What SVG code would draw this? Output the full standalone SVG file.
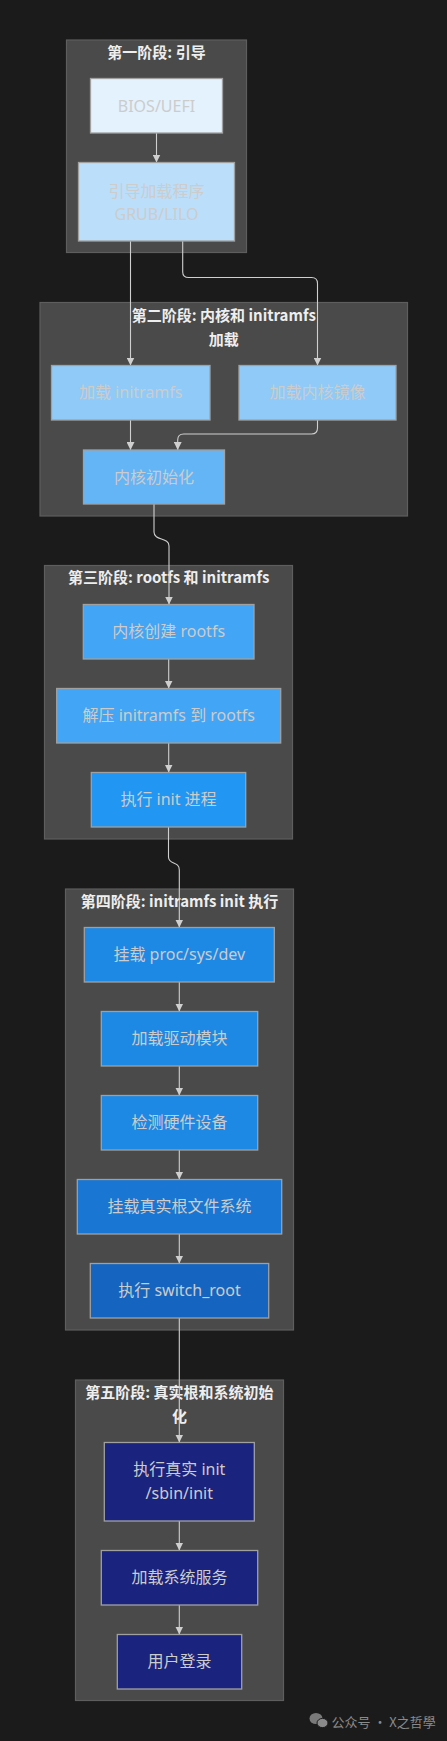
<svg xmlns="http://www.w3.org/2000/svg" width="447" height="1741" viewBox="0 0 447 1741">
<style>
.cl{fill:#494a49;stroke:#5e5e5e;stroke-width:1.2}
.ct{font-family:"Noto Sans CJK SC",sans-serif;font-size:15px;font-weight:bold;fill:#eeeeee;text-anchor:middle}
.n{stroke:#a0a0a0;stroke-width:1.3}
.nt{font-family:"Noto Sans","Noto Sans CJK SC",sans-serif;font-size:16px;fill:#cccccc;text-anchor:middle}
.e{fill:none;stroke:#cfcfcf;stroke-width:1.1}
.wm{font-family:"Noto Sans CJK SC",sans-serif;font-size:13px;fill:#8a8a8a}
</style>
<defs>
<marker id="ah" viewBox="0 0 10 10" refX="10" refY="5" markerWidth="8" markerHeight="8" markerUnits="userSpaceOnUse" orient="auto">
<path d="M0,0 L10,5 L0,10 z" fill="#cfcfcf"/>
</marker>
</defs>
<rect x="0" y="0" width="447" height="1741" fill="#1b1b1b"/>

<g id="cluster1"><rect class="cl" x="66.5" y="40" width="180" height="212.5"/><text class="ct" x="156.5" y="58">第一阶段: 引导</text></g>
<g id="cluster2"><rect class="cl" x="40" y="302.5" width="367.5" height="213.5"/><text class="ct" x="223.8" y="320.5">第二阶段: 内核和 initramfs</text><text class="ct" x="223.8" y="345">加载</text></g>
<g id="cluster3"><rect class="cl" x="44.5" y="565.5" width="248" height="273.5"/><text class="ct" x="168.7" y="583">第三阶段: rootfs 和 initramfs</text></g>
<g id="cluster4"><rect class="cl" x="65.5" y="889" width="228" height="441"/><text class="ct" x="179.5" y="906.5">第四阶段: initramfs init 执行</text></g>
<g id="cluster5"><rect class="cl" x="75.5" y="1380" width="208" height="320.5"/><text class="ct" x="179.5" y="1398">第五阶段: 真实根和系统初始</text><text class="ct" x="179.5" y="1421.5">化</text></g>

<g id="connectors">
<path class="e" marker-end="url(#ah)" d="M156.5,133 L156.5,162.5"/>
<path class="e" marker-end="url(#ah)" d="M130.5,241 L130.5,365.5"/>
<path class="e" marker-end="url(#ah)" d="M182.7,241 L182.7,272 Q182.7,277.5 188.7,277.5 L311.5,277.5 Q317.5,277.5 317.5,283.5 L317.5,365.5"/>
<path class="e" marker-end="url(#ah)" d="M130.5,420 L130.5,450"/>
<path class="e" marker-end="url(#ah)" d="M317.5,420 L317.5,428 Q317.5,434 311.5,434 L183.7,434 Q177.7,434 177.7,440 L177.7,450"/>
<path class="e" marker-end="url(#ah)" d="M154,504 L154,532 C154,541 169,537 169,546 L169,604.5"/>
<path class="e" marker-end="url(#ah)" d="M168.7,659 L168.7,688.5"/>
<path class="e" marker-end="url(#ah)" d="M168.7,743 L168.7,772.5"/>
<path class="e" marker-end="url(#ah)" d="M168.5,827 L168.5,857 C168.5,865 179.3,861 179.3,870 L179.3,927.5"/>
<path class="e" marker-end="url(#ah)" d="M179.3,982 L179.3,1011.5"/>
<path class="e" marker-end="url(#ah)" d="M179.3,1066 L179.3,1095.5"/>
<path class="e" marker-end="url(#ah)" d="M179.3,1150 L179.3,1179.5"/>
<path class="e" marker-end="url(#ah)" d="M179.3,1234 L179.3,1263.5"/>
<path class="e" marker-end="url(#ah)" d="M179.3,1318 L179.3,1442.5"/>
<path class="e" marker-end="url(#ah)" d="M179.3,1521 L179.3,1550.5"/>
<path class="e" marker-end="url(#ah)" d="M179.3,1605 L179.3,1634.5"/>
</g>

<g id="bios"><rect class="n" x="90.5" y="78.5" width="132" height="54.5" fill="#e3f2fd"/><text class="nt" x="156.5" y="111.5">BIOS/UEFI</text></g>
<g id="bootloader"><rect class="n" x="78.5" y="162.5" width="156" height="78.5" fill="#bbdefb"/><text class="nt" x="156.5" y="196.5">引导加载程序</text><text class="nt" x="156.5" y="220">GRUB/LILO</text></g>
<g id="load_initramfs"><rect class="n" x="51.5" y="365.5" width="158.5" height="54.5" fill="#90caf9"/><text class="nt" x="130.7" y="398">加载 initramfs</text></g>
<g id="load_kernel"><rect class="n" x="239" y="365.5" width="157" height="54.5" fill="#90caf9"/><text class="nt" x="317.5" y="398">加载内核镜像</text></g>
<g id="kernel_init"><rect class="n" x="83.5" y="450" width="141" height="54" fill="#64b5f6"/><text class="nt" x="154" y="482.5">内核初始化</text></g>
<g id="create_rootfs"><rect class="n" x="83.3" y="604.5" width="170.7" height="54.5" fill="#42a5f5"/><text class="nt" x="168.7" y="637">内核创建 rootfs</text></g>
<g id="extract"><rect class="n" x="56.7" y="688.5" width="224" height="54.5" fill="#42a5f5"/><text class="nt" x="168.7" y="721">解压 initramfs 到 rootfs</text></g>
<g id="run_init"><rect class="n" x="91.3" y="772.5" width="154.4" height="54.5" fill="#2196f3"/><text class="nt" x="168.5" y="805">执行 init 进程</text></g>
<g id="mount_proc"><rect class="n" x="84.3" y="927.5" width="190" height="54.5" fill="#1e88e5"/><text class="nt" x="179.3" y="960">挂载 proc/sys/dev</text></g>
<g id="load_drivers"><rect class="n" x="101.3" y="1011.5" width="156.4" height="54.5" fill="#1e88e5"/><text class="nt" x="179.5" y="1044">加载驱动模块</text></g>
<g id="detect_hw"><rect class="n" x="101.3" y="1095.5" width="156.4" height="54.5" fill="#1e88e5"/><text class="nt" x="179.5" y="1128">检测硬件设备</text></g>
<g id="mount_root"><rect class="n" x="77.3" y="1179.5" width="204.4" height="54.5" fill="#1976d2"/><text class="nt" x="179.5" y="1212">挂载真实根文件系统</text></g>
<g id="switch_root"><rect class="n" x="90.3" y="1263.5" width="178.4" height="54.5" fill="#1565c0"/><text class="nt" x="179.5" y="1296">执行 switch_root</text></g>
<g id="real_init"><rect class="n" x="104.3" y="1442.5" width="150" height="78.5" fill="#1a237e"/><text class="nt" x="179.3" y="1475">执行真实 init</text><text class="nt" x="179.3" y="1499.3">/sbin/init</text></g>
<g id="services"><rect class="n" x="101.3" y="1550.5" width="156.4" height="54.5" fill="#1a237e"/><text class="nt" x="179.5" y="1583">加载系统服务</text></g>
<g id="login"><rect class="n" x="117.3" y="1634.5" width="124.4" height="54.5" fill="#1a237e"/><text class="nt" x="179.5" y="1667">用户登录</text></g>

<g id="watermark">
<ellipse cx="316" cy="1718.5" rx="6.5" ry="5.5" fill="#7a7a7a"/>
<ellipse cx="322.5" cy="1723" rx="5.5" ry="4.6" fill="#8a8a8a" stroke="#1b1b1b" stroke-width="1"/>
<text class="wm" x="331.5" y="1726.5">公众号 · X之哲學</text>
</g>
</svg>
